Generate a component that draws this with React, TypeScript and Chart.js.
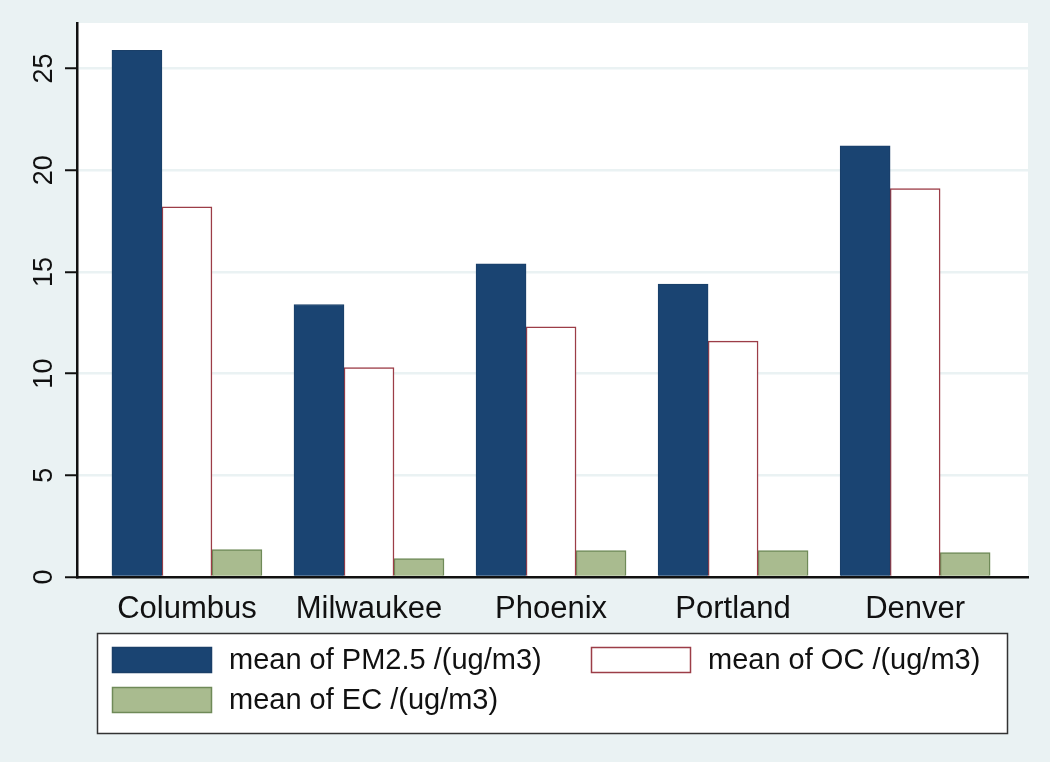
import React, { useEffect, useRef } from 'react';
import { Chart, registerables } from 'chart.js';

Chart.register(...registerables);

const categories = ['Columbus', 'Milwaukee', 'Phoenix', 'Portland', 'Denver'];
const pm25 = [25.9, 13.4, 15.4, 14.4, 21.2];
const oc = [18.2, 10.3, 12.3, 11.6, 19.1];
const ec = [1.35, 0.9, 1.3, 1.3, 1.2];
const seriesLabels = ['mean of PM2.5 /(ug/m3)', 'mean of OC /(ug/m3)', 'mean of EC /(ug/m3)'];
const yTickValues = [0, 5, 10, 15, 20, 25];

const BG = '#eaf2f3';
const FONT = '"Liberation Sans", Arial, sans-serif';

const bgPlugin = {
  id: 'bgPlugin',
  beforeDraw(chart: any) {
    const { ctx, chartArea } = chart;
    ctx.save();
    ctx.fillStyle = BG;
    ctx.fillRect(0, 0, chart.width, chart.height);
    ctx.fillStyle = '#ffffff';
    ctx.fillRect(chartArea.left, chartArea.top, chartArea.right - chartArea.left, chartArea.bottom - chartArea.top);
    ctx.restore();
  },
};

const legendPlugin = {
  id: 'boxLegend',
  afterDraw(chart: any) {
    const { ctx } = chart;
    const ds = chart.data.datasets;
    ctx.save();
    const bx = 97, by = 633, bw = 910, bh = 100;
    ctx.fillStyle = '#ffffff';
    ctx.fillRect(bx, by, bw, bh);
    ctx.strokeStyle = '#333333';
    ctx.lineWidth = 1.5;
    ctx.strokeRect(bx + 0.5, by + 0.5, bw, bh);
    const pos = [
      { x: 112, y: 647 },
      { x: 591, y: 647 },
      { x: 112, y: 687 },
    ];
    ctx.font = `29px ${FONT}`;
    ctx.textBaseline = 'middle';
    ctx.textAlign = 'left';
    ds.forEach((d: any, i: number) => {
      const p = pos[i];
      ctx.fillStyle = d.backgroundColor;
      ctx.fillRect(p.x, p.y, 100, 26);
      ctx.strokeStyle = d.borderColor;
      ctx.lineWidth = 1.5;
      ctx.strokeRect(p.x + 0.5, p.y + 0.5, 99, 25);
      ctx.fillStyle = '#111111';
      ctx.fillText(d.label, p.x + 117, p.y + 14);
    });
    ctx.restore();
  },
};

export default function App() {
  const ref = useRef<HTMLCanvasElement | null>(null);
  useEffect(() => {
    document.body.style.margin = '0';
    const canvas = ref.current!;
    const toPts = (arr: number[]) => arr.map((v, i) => ({ x: i, y: v }));
    const chart = new Chart(canvas, {
      type: 'bar',
      data: {
        datasets: [
          {
            label: seriesLabels[0],
            data: toPts(pm25),
            backgroundColor: '#1a4472',
            borderColor: '#1a3f68',
            borderWidth: 1,
          },
          {
            label: seriesLabels[1],
            data: toPts(oc),
            backgroundColor: '#ffffff',
            borderColor: '#9c3d47',
            borderWidth: 1.5,
          },
          {
            label: seriesLabels[2],
            data: toPts(ec),
            backgroundColor: '#a9bb8f',
            borderColor: '#6f8a58',
            borderWidth: 1.5,
          },
        ] as any,
      },
      options: {
        responsive: false,
        animation: false,
        maintainAspectRatio: false,
        layout: { padding: { left: 0, top: 23, right: 22, bottom: 137 } },
        datasets: { bar: { barThickness: 50 } } as any,
        plugins: {
          legend: { display: false },
          tooltip: { enabled: false },
        },
        scales: {
          x: {
            type: 'linear',
            offset: false,
            min: -0.604,
            max: 4.62,
            grid: { display: false, offset: false },
            border: { display: true, color: '#111111', width: 2.5 },
            afterBuildTicks: (s: any) => { s.ticks = categories.map((_, i) => ({ value: i })); },
            ticks: {
              autoSkip: false,
              maxRotation: 0,
              padding: 6,
              color: '#111111',
              font: { family: FONT, size: 31 },
              callback: (v: any) => {
                const n = Number(v);
                return Number.isInteger(n) && categories[n] !== undefined ? categories[n] : '';
              },
            },
            afterFit: (s: any) => { s.height = 48; },
          } as any,
          y: {
            type: 'linear',
            min: 0,
            max: 27.24,
            grid: {
              color: BG,
              lineWidth: 2.5,
              tickColor: '#111111',
              tickWidth: 2,
              tickLength: 12,
            },
            border: { display: true, color: '#111111', width: 2.5 },
            afterBuildTicks: (s: any) => { s.ticks = yTickValues.map((v) => ({ value: v })); },
            ticks: {
              minRotation: 90,
              maxRotation: 90,
              crossAlign: 'center',
              padding: 5,
              color: '#111111',
              font: { family: FONT, size: 27 },
            },
            afterFit: (s: any) => { s.width = 77; },
          } as any,
        },
      },
      plugins: [bgPlugin, legendPlugin],
    });
    return () => chart.destroy();
  }, []);
  return <canvas ref={ref} width={1050} height={762} style={{ display: 'block' }} />;
}
